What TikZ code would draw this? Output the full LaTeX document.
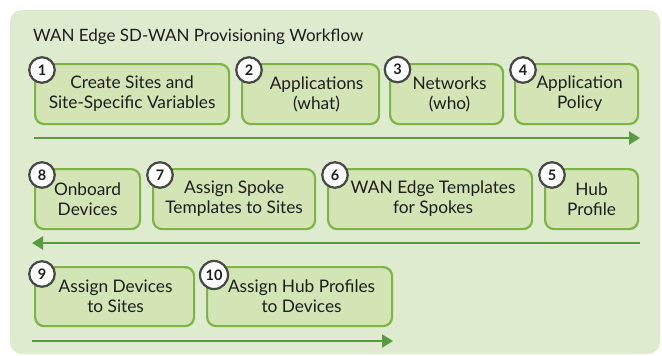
\documentclass[tikz,border=0pt]{standalone}
\usepackage{fontspec}
\setmainfont{Lato}
\usetikzlibrary{arrows.meta}
\definecolor{bgc}{HTML}{DEEBCF}
\definecolor{boxfill}{HTML}{D3E4B5}
\definecolor{boxline}{HTML}{7DB544}
\definecolor{arrowc}{HTML}{5A9A42}
\definecolor{circline}{HTML}{474747}
\definecolor{txt}{HTML}{1E1E1E}
\tikzset{
  stepbox/.style={draw=boxline, fill=boxfill, line width=2.2pt, rounded corners=9pt, inner sep=0pt},
  lbl/.style={align=center, text=txt, font=\fontsize{17.3}{20}\selectfont, inner sep=0pt},
  titlelbl/.style={text=txt, font=\fontsize{17}{20}\selectfont, inner sep=0pt},
  numc/.style={circle, draw=circline, fill=white, line width=2.2pt, minimum size=25.5pt, inner sep=0pt, text=txt, font=\fontsize{14.5}{14.5}\selectfont\bfseries},
  flow/.style={draw=arrowc, line width=2.4pt, -{Triangle[length=11pt,width=13pt]}}
}
\newcommand{\mybox}[5]{% name, x0, y0, x1, y1
  \node[stepbox, minimum width={#4-#2}, minimum height={#5-#3}, anchor=north west] (#1) at (#2,#3) {};
}
\begin{document}
\begin{tikzpicture}[x=1pt,y=-1pt]
\useasboundingbox (0,0) rectangle (662,356);
\fill[bgc, rounded corners=12pt] (10,10) rectangle (660,354);
\node[titlelbl, anchor=west] (title) at (33,37) {WAN Edge SD-WAN Provisioning Workflow};
% row 1
\mybox{b1}{34}{63}{228}{123}
\mybox{b2}{241}{63}{378}{123}
\mybox{b3}{389}{63}{502}{123}
\mybox{b4}{514}{63}{637}{123}
% row 2
\mybox{b8}{34}{168}{139}{228}
\mybox{b7}{152}{168}{314}{228}
\mybox{b6}{327}{168}{531}{228}
\mybox{b5}{544}{168}{637}{228}
% row 3
\mybox{b9}{34}{266}{193}{325}
\mybox{b10}{206}{266}{391}{325}
% labels
\node[lbl] (t1) at (b1.center) {Create Sites and\\Site-Specific Variables};
\node[lbl] (t2) at ([xshift=6]b2.center) {Applications\\(what)};
\node[lbl] (t3) at ([xshift=3]b3.center) {Networks\\(who)};
\node[lbl] (t4) at ([xshift=3]b4.center) {Application\\Policy};
\node[lbl] (t8) at (b8.center) {Onboard\\Devices};
\node[lbl] (t7) at (b7.center) {Assign Spoke\\Templates to Sites};
\node[lbl] (t6) at ([xshift=3]b6.center) {WAN Edge Templates\\for Spokes};
\node[lbl] (t5) at (b5.center) {Hub\\Profile};
\node[lbl] (t9) at ([xshift=1]b9.center) {Assign Devices\\to Sites};
\node[lbl] (t10) at ([xshift=2]b10.center) {Assign Hub Profiles\\to Devices};
% number circles
\node[numc] (n1) at (42,70) {1};
\node[numc] (n2) at (249,70) {2};
\node[numc] (n3) at (397.5,69.5) {3};
\node[numc] (n4) at (523,70) {4};
\node[numc] (n8) at (42,175) {8};
\node[numc] (n7) at (160,175) {7};
\node[numc] (n6) at (335,175) {6};
\node[numc] (n5) at (552,175) {5};
\node[numc] (n9) at (42,274) {9};
\node[numc, minimum size=28pt] (n10) at (214,275) {10};
% arrows
\coordinate (a1s) at (34,138); \coordinate (a1e) at (640,138);
\coordinate (a2s) at (640,243); \coordinate (a2e) at (32,243);
\coordinate (a3s) at (32,341); \coordinate (a3e) at (393,341);
\draw[flow] (a1s) -- (a1e);
\draw[flow] (a2s) -- (a2e);
\draw[flow] (a3s) -- (a3e);
\end{tikzpicture}
\end{document}
